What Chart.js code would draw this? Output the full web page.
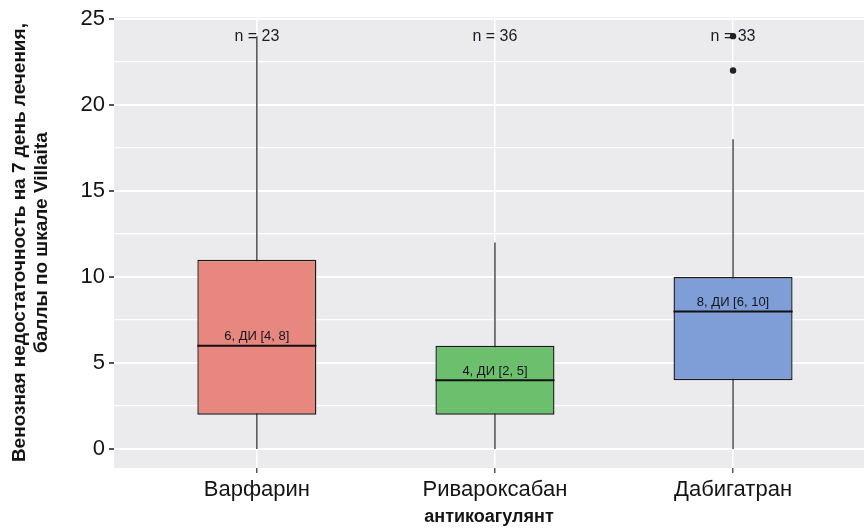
<!DOCTYPE html>
<html>
<head>
<meta charset="utf-8">
<script src="https://cdn.jsdelivr.net/npm/chart.js@4"></script>
<style>
  html, body { margin: 0; padding: 0; background: #ffffff; overflow: hidden; }
  canvas { display: block; }
</style>
</head>
<body>
<canvas id="chart" width="864" height="528"></canvas>
<script>
// Оценка по шкале Villalta на 7 день лечения по группам антикоагулянтов
const categories = ['Варфарин', 'Ривароксабан', 'Дабигатран'];
const counts = [23, 36, 33];
const whiskerLow = [0, 0, 0];
const q1 = [2, 2, 4];
const medians = [6, 4, 8];
const q3 = [11, 6, 10];
const whiskerHigh = [24, 12, 18];
const ciLow = [4, 2, 6];
const ciHigh = [8, 5, 10];
const outliers = [[], [], [22, 24]];
const yTicks = [0, 5, 10, 15, 20, 25];

const boxColors = ['#E8877F', '#6CBF6C', '#7F9DD6'];
const FONT = '"Liberation Sans", Arial, sans-serif';
const BOX_WIDTH = 0.5;         // share of one category slot
const COUNT_LABEL_Y = 24;      // height of the "n = …" labels
const yMinorTicks = yTicks.slice(0, -1).map(v => v + 2.5);

const pos = categories.map((_, i) => i + 1);

// whisker lines, broken between groups
const whiskerData = [];
pos.forEach((p, i) => {
  whiskerData.push({ x: p, y: whiskerLow[i] }, { x: p, y: whiskerHigh[i] }, { x: p, y: null });
});

// median segments across each box
const medianData = [];
pos.forEach((p, i) => {
  medianData.push({ x: p - BOX_WIDTH / 2, y: medians[i] }, { x: p + BOX_WIDTH / 2, y: medians[i] }, { x: p, y: null });
});

const outlierData = [];
outliers.forEach((list, i) => list.forEach(v => outlierData.push({ x: pos[i], y: v })));

const panelAndLabels = {
  id: 'panelAndLabels',
  beforeDraw(chart) {
    const { ctx, chartArea: a } = chart;
    ctx.save();
    ctx.fillStyle = '#EBEBED';
    ctx.fillRect(a.left, a.top, a.right - a.left, a.bottom - a.top);
    ctx.restore();
  },
  afterDatasetsDraw(chart) {
    const { ctx, scales: { x, y } } = chart;
    ctx.save();
    ctx.textAlign = 'center';
    ctx.textBaseline = 'middle';
    ctx.fillStyle = '#1c1c24';
    ctx.font = '16px ' + FONT;
    pos.forEach((p, i) => {
      ctx.fillText('n = ' + counts[i], x.getPixelForValue(p), y.getPixelForValue(COUNT_LABEL_Y));
    });
    ctx.font = '13px ' + FONT;
    ctx.fillStyle = '#15151c';
    pos.forEach((p, i) => {
      const label = medians[i] + ', ДИ [' + ciLow[i] + ', ' + ciHigh[i] + ']';
      ctx.fillText(label, x.getPixelForValue(p), y.getPixelForValue(medians[i]) - 9);
    });
    ctx.restore();
  }
};

new Chart(document.getElementById('chart'), {
  type: 'bar',
  data: {
    datasets: [
      {
        type: 'line',
        data: whiskerData,
        borderColor: '#333333',
        borderWidth: 1.3,
        pointRadius: 0,
        spanGaps: false,
        order: 3
      },
      {
        type: 'bar',
        data: pos.map((p, i) => ({ x: p, y: [q1[i], q3[i]] })),
        backgroundColor: boxColors,
        borderColor: '#1a1a1a',
        borderWidth: 1.4,
        borderSkipped: false,
        barPercentage: BOX_WIDTH,
        categoryPercentage: 1,
        order: 2
      },
      {
        type: 'line',
        data: medianData,
        borderColor: '#111111',
        borderWidth: 2,
        pointRadius: 0,
        spanGaps: false,
        order: 1
      },
      {
        type: 'scatter',
        data: outlierData,
        backgroundColor: '#222222',
        borderWidth: 0,
        pointRadius: 3.2,
        order: 0
      }
    ]
  },
  options: {
    responsive: false,
    animation: false,
    devicePixelRatio: 1,
    layout: { autoPadding: false, padding: { top: 12, right: 0, bottom: 0, left: 0 } },
    plugins: { legend: { display: false }, tooltip: { enabled: false } },
    scales: {
      x: {
        type: 'linear',
        min: 0.4,
        max: 3.55,
        offset: false,
        afterBuildTicks: s => { s.ticks = pos.map(v => ({ value: v })); },
        afterFit: s => { s.height = 60; s.paddingLeft = 0; s.paddingRight = 0; },
        border: { display: false },
        grid: {
          offset: false,
          color: '#ffffff',
          lineWidth: 1.5,
          tickColor: '#555555',
          tickLength: 5
        },
        ticks: {
          callback: v => categories[v - 1] || '',
          color: '#141414',
          font: { family: FONT, size: 22 },
          padding: 4,
          maxRotation: 0
        },
        title: {
          display: true,
          text: 'антикоагулянт',
          color: '#141414',
          font: { family: FONT, size: 18, weight: 'bold', lineHeight: 1.2 },
          padding: { top: 0, bottom: 0 }
        }
      },
      y: {
        type: 'linear',
        min: -1.1,
        max: 25.1,
        afterBuildTicks: s => {
          s.ticks = yTicks.concat(yMinorTicks).sort((a, b) => a - b).map(v => ({ value: v }));
        },
        afterFit: s => { s.width = 114; },
        border: { display: false },
        grid: {
          color: '#ffffff',
          lineWidth: c => (yTicks.includes(c.tick && c.tick.value) ? 2 : 1.3),
          tickColor: c => (yTicks.includes(c.tick && c.tick.value) ? '#555555' : 'rgba(0,0,0,0)'),
          tickLength: 5
        },
        ticks: {
          callback: v => (yTicks.includes(v) ? String(v) : ''),
          color: '#141414',
          font: { family: FONT, size: 22 },
          padding: 4
        },
        title: {
          display: true,
          text: ['Венозная недостаточность на 7 день лечения,', 'баллы по шкале Villaita'],
          color: '#141414',
          font: { family: FONT, size: 19, weight: 'bold', lineHeight: 1.16 },
          padding: { top: 9, bottom: 0 }
        }
      }
    }
  },
  plugins: [panelAndLabels]
});
</script>
</body>
</html>
